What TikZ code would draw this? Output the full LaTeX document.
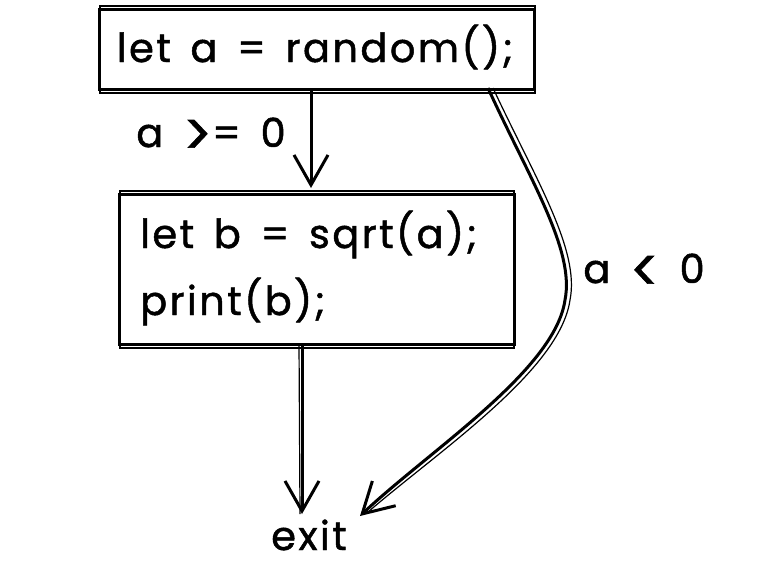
\documentclass[tikz,border=0pt]{standalone}
\usepackage{fontspec}
\usepackage{graphicx}
\setmainfont{Poppins}[LetterSpace=6,WordSpace=1.5,FakeBold=1.2]
\usetikzlibrary{arrows.meta}
\newcommand{\bigsym}[1]{\raisebox{-0.4ex}{\scalebox{1.35}[1.5]{#1}}}
\tikzset{
  sketch/.style={line width=3pt, draw=black},
  thinsketch/.style={line width=1.2pt, draw=black},
  codebox/.style={sketch, rectangle, inner sep=0pt, anchor=north west},
  codetext/.style={font=\fontsize{40}{44}\selectfont, inner sep=0pt},
  flow/.style={line width=3pt, -{Straight Barb[length=30pt,width=34pt,line width=3pt]}},
  flowthin/.style={line width=1.2pt}
}
\begin{document}
\begin{tikzpicture}[x=1pt,y=-1pt]
  \useasboundingbox (0,0) rectangle (771,565);
  % box 1
  \node[codebox, minimum width=435pt, minimum height=80pt] (b1) at (98,8) {};
  \draw[thinsketch] (b1.north west) ++(2,-2) rectangle ([shift={(-1,2)}]b1.south east);
  \node[codetext, anchor=base] (t1) at (315,62) {let a = random();};
  % box 2
  \node[codebox, minimum width=395pt, minimum height=150pt] (b2) at (118,193) {};
  \draw[thinsketch] (b2.north west) ++(2,-2) rectangle ([shift={(-2,2)}]b2.south east);
  \node[codetext, anchor=base west] (t2a) at (140,248) {let b = sqrt(a);};
  \node[codetext, anchor=base west] (t2b) at (140,315) {print(b);};
  % exit
  \node[codetext, anchor=base] (exit) at (309,550) {exit};
  % labels
  \node[codetext, anchor=base] (l1) at (211,147) {a \bigsym{>}= 0};
  \node[codetext, anchor=base] (l2) at (644,283) {a \bigsym{<} 0};
  % connectors
  \coordinate (s1) at (311,88);
  \coordinate (s2) at (302,343);
  \coordinate (s3) at (488,88);
  \coordinate (e1) at (311,188);
  \coordinate (e2) at (302,514);
  \coordinate (e3) at (360,516);
  \draw[flow] (s1) -- (e1);
  \draw[flow] (s2) -- (e2);
  \draw[flow] (s3) .. controls (530,180) and (575,250) .. (565,300)
                   .. controls (555,370) and (430,450) .. (e3);
  \draw[flowthin] ([xshift=5pt]s3) .. controls (536,180) and (580,250) .. (570,300)
                   .. controls (560,370) and (440,450) .. ([shift={(8,-4)}]e3);
  \draw[flowthin] ([xshift=-3pt]s2) -- ([xshift=-2pt]e2);
\end{tikzpicture}
\end{document}
